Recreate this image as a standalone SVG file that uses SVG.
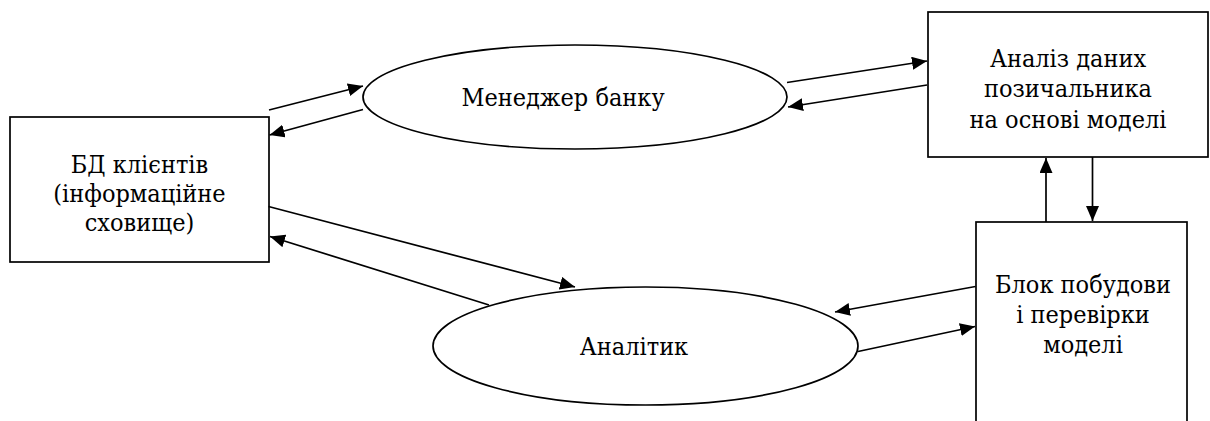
<svg xmlns="http://www.w3.org/2000/svg" width="1210" height="421" viewBox="0 0 1210 421">
  <style>
    .shape { fill: #ffffff; stroke: #000000; stroke-width: 1.7; }
    .label { font-family: "DejaVu Serif", "Liberation Serif", serif; font-stretch: condensed; font-size: 25px; fill: #000000; text-anchor: middle; }
    .flow { fill: none; stroke: #000000; stroke-width: 1.7; marker-end: url(#arrow); }
  </style>
  <defs>
    <marker id="arrow" markerUnits="userSpaceOnUse" markerWidth="16" markerHeight="14" refX="15" refY="6.5" orient="auto">
      <path d="M0,0 L15,6.5 L0,13 Z" fill="#000000"/>
    </marker>
  </defs>

  <rect width="1210" height="421" fill="#ffffff"/>

  <!-- client database -->
  <g id="node-db">
    <rect class="shape" x="10" y="117" width="259" height="145"/>
    <text class="label" x="139.5" y="173">БД клієнтів</text>
    <text class="label" x="139.5" y="202">(інформаційне</text>
    <text class="label" x="139.5" y="231">сховище)</text>
  </g>

  <!-- bank manager -->
  <g id="node-manager">
    <ellipse class="shape" cx="575" cy="97" rx="212" ry="52"/>
    <text class="label" x="563" y="106" font-size="24">Менеджер банку</text>
  </g>

  <!-- borrower data analysis -->
  <g id="node-analysis">
    <rect class="shape" x="928" y="12" width="280" height="145"/>
    <text class="label" x="1068" y="67">Аналіз даних</text>
    <text class="label" x="1068" y="97">позичальника</text>
    <text class="label" x="1068" y="128">на основі моделі</text>
  </g>

  <!-- analyst -->
  <g id="node-analyst">
    <ellipse class="shape" cx="645.5" cy="346" rx="212.5" ry="59"/>
    <text class="label" x="634" y="355">Аналітик</text>
  </g>

  <!-- model building and validation -->
  <g id="node-model">
    <rect class="shape" x="976" y="222" width="211" height="230"/>
    <text class="label" x="1083" y="293">Блок побудови</text>
    <text class="label" x="1083" y="323">і перевірки</text>
    <text class="label" x="1083" y="353">моделі</text>
  </g>

  <g id="connectors">
    <line class="flow" x1="269" y1="110" x2="363" y2="86"/>
    <line class="flow" x1="363" y1="109.5" x2="269.5" y2="135"/>
    <line class="flow" x1="787" y1="82.5" x2="927" y2="61"/>
    <line class="flow" x1="927" y1="85" x2="788" y2="107"/>
    <line class="flow" x1="1046" y1="222" x2="1046" y2="158"/>
    <line class="flow" x1="1092.5" y1="157" x2="1092.5" y2="221"/>
    <line class="flow" x1="268.5" y1="206.5" x2="575" y2="287"/>
    <line class="flow" x1="489" y1="305" x2="270" y2="236.5"/>
    <line class="flow" x1="975.5" y1="286.5" x2="835" y2="312"/>
    <line class="flow" x1="858" y1="351.5" x2="975" y2="326.5"/>
  </g>
</svg>
